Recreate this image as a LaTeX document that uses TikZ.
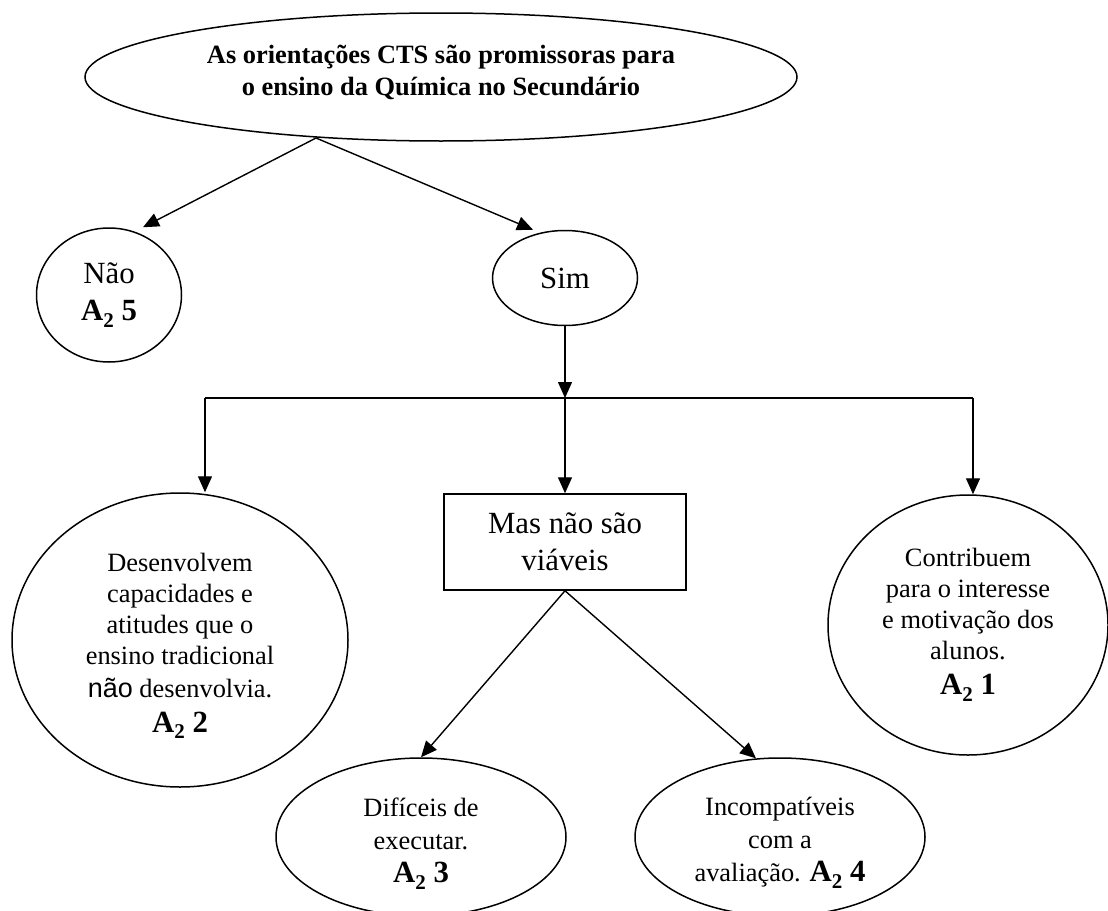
\documentclass[tikz,border=0pt]{standalone}
\usepackage{fontspec}
\setmainfont{Liberation Serif}
\newfontfamily\sansfont{Liberation Sans}
\usetikzlibrary{shapes.geometric,arrows.meta,calc}

% text sizes (12 pt and 14 pt body text at this scale)
\newcommand\normtxt{\fontsize{26.4}{31}\selectfont}
\newcommand\bigtxt{\fontsize{30.8}{37}\selectfont}
% answer code "A2 n" in bold
\newcommand\anscode[1]{{\bigtxt\bfseries A\raisebox{-0.22em}{\fontsize{21}{21}\selectfont 2} #1}}
% invisible struts to place text lines inside the ovals
\newcommand\topstrut[1]{\rule{0pt}{#1}}
\newcommand\botstrut[1]{\rule[-#1]{0pt}{0pt}}

\begin{document}
\begin{tikzpicture}[x=1pt,y=-1pt,
  every node/.style={inner sep=0pt, align=center, line width=1.5pt, draw},
  oval/.style={ellipse, font=\normtxt},
  arr/.style={line width=1.4pt, -{Triangle[length=16pt,width=14pt]}},
  ln/.style={line width=1.4pt}
]
\useasboundingbox (0,0) rectangle (1108,910);

% question
\node[oval, minimum width=712pt, minimum height=128pt,
      font=\fontsize{26.4}{32}\selectfont\bfseries] (top) at (441,77)
  {As orientações CTS são promissoras para\\ o ensino da Química no Secundário\botstrut{14pt}};

% first answers
\node[oval, minimum width=145pt, minimum height=134pt, font=\bigtxt] (nao) at (109,295)
  {Não\\ \anscode{5}};
\node[oval, minimum width=145pt, minimum height=95pt, font=\bigtxt] (sim) at (565,278)
  {Sim};

% branches under "Sim"
\node[rectangle, minimum width=242pt, minimum height=96pt, font=\bigtxt] (box) at (565,542)
  {Mas não são\\ viáveis};
\node[oval, minimum width=336pt, minimum height=294pt] (left) at (180,640)
  {\topstrut{30pt}Desenvolvem\\ capacidades e\\ atitudes que o\\ ensino tradicional\\[2pt]
   {\sansfont\fontsize{27}{31}\selectfont não} desenvolvia.\\[4pt] \anscode{2}};
\node[oval, minimum width=280pt, minimum height=260pt] (right) at (968,625)
  {Contribuem\\ para o interesse\\ e motivação dos\\ alunos.\\[4pt] \anscode{1}};
\node[oval, minimum width=290pt, minimum height=158pt] (dif) at (421,837)
  {\topstrut{32pt}Difíceis de\\[2pt] executar.\\[2pt] \anscode{3}};
\node[oval, minimum width=290pt, minimum height=158pt] (inc) at (780,837)
  {\topstrut{30pt}Incompatíveis\\[2pt] com a\\[2pt] avaliação. \anscode{4}};

% branching points
\coordinate (split) at (316,138);
\coordinate (junc) at (565,398);
\coordinate (jl) at (205,398);
\coordinate (jr) at (973,398);

% connectors
\draw[arr] (split) -- ($(nao.north)+(34,0)$);
\draw[arr] (split) -- ($(sim.north)+(-32,0)$);
\draw[arr] (sim.south) -- (junc);
\draw[ln] (jl) -- (jr);
\draw[arr] (jl) -- (jl |- left.north);
\draw[arr] (junc) -- (box.north);
\draw[arr] (jr) -- (jr |- right.north);
\draw[arr] (box.south) -- (dif.north);
\draw[arr] (box.south) -- (inc.107);
\end{tikzpicture}
\end{document}
